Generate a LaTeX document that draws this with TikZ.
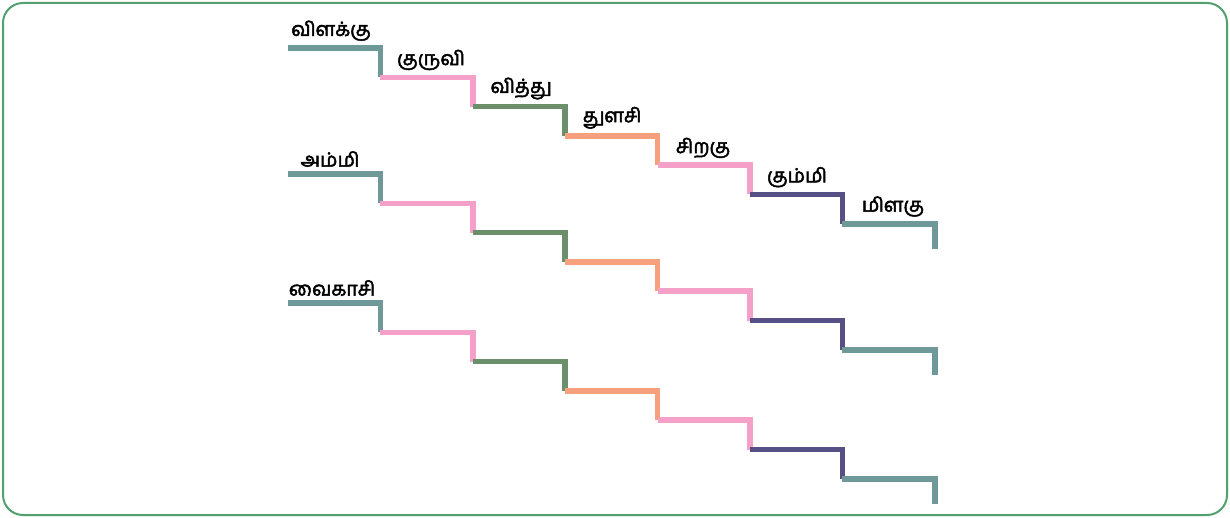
\documentclass[tikz,border=0pt]{standalone}
\usepackage{fontspec}
\newfontfamily\tamilfont[Script=Tamil,FakeBold=2.5]{Hind Madurai}
\definecolor{frameGreen}{HTML}{52A06F}
\definecolor{stepTeal}{HTML}{6F9899}
\definecolor{stepPink}{HTML}{F5A0C8}
\definecolor{stepGreen}{HTML}{6B8E6B}
\definecolor{stepOrange}{HTML}{F6A07E}
\definecolor{stepPurple}{HTML}{575086}
\tikzset{stair/.style={line width=5.5pt},
  word/.style={font=\tamilfont\fontsize{19.5}{19.5}\selectfont,anchor=south,inner sep=0pt}}

\begin{document}
\begin{tikzpicture}[x=1pt,y=-1pt]
\useasboundingbox (0,0) rectangle (1230,518);
\draw[frameGreen,line width=2pt,rounded corners=20pt] (3,3) rectangle (1227,515);
\foreach \y in {48,174,303}
  \foreach \c [count=\i from 0] in {stepTeal,stepPink,stepGreen,stepOrange,stepPink,stepPurple,stepTeal}
    \draw[stair,\c] (288+92.4*\i,\y+29.3*\i) -- ++(92.4,0) -- ++(0,{\i<6 ? 29.3 : 25});
\foreach \w/\x [count=\i from 0] in {விளக்கு/331,குருவி/431,வித்து/521,துளசி/612,சிறகு/703,கும்மி/797,மிளகு/893}
  \node[word] (top\i) at (\x,41+29.3*\i) {\w};
\node[word] (ammi) at (330,167) {அம்மி};
\node[word] (vaikasi) at (332,296) {வைகாசி};
\end{tikzpicture}
\end{document}
